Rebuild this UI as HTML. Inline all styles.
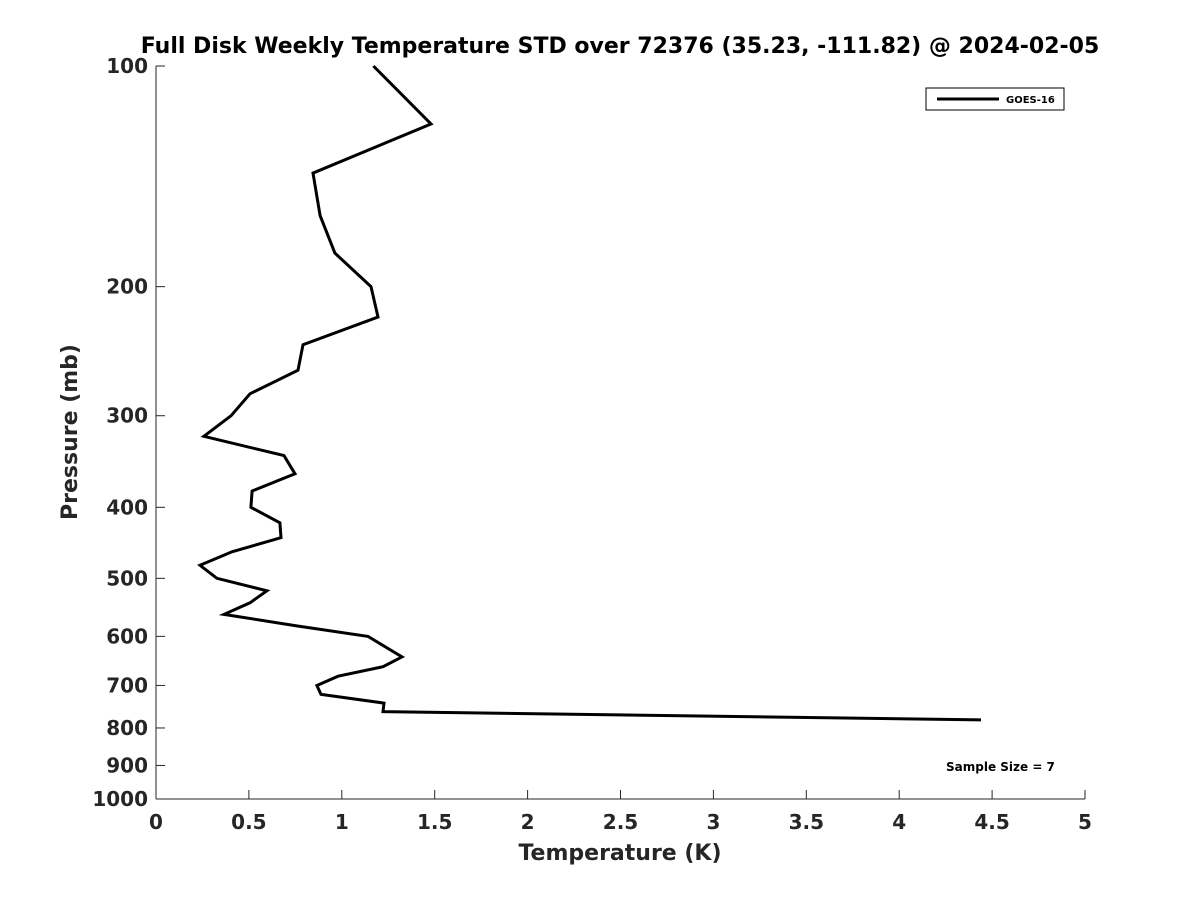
<!DOCTYPE html>
<html><head><meta charset="utf-8"><style>
body{margin:0;background:#fff;font-family:"Liberation Sans","DejaVu Sans",sans-serif}
text{font-family:"DejaVu Sans","Liberation Sans",sans-serif;font-weight:bold;fill:#262626}
</style></head><body>
<svg id="chart" width="1200" height="900" xmlns="http://www.w3.org/2000/svg">
<rect width="1200" height="900" fill="#fff"/>
<text x="620" y="53" text-anchor="middle" font-size="22" style="fill:#000">Full Disk Weekly Temperature STD over 72376 (35.23, -111.82) @ 2024-02-05</text>
<g id="axes"></g>
<path id="series" fill="none" stroke="#000" stroke-width="3" stroke-linejoin="miter"/>
<g>
<rect x="926" y="88" width="138" height="22" fill="#fff" stroke="#000" stroke-width="1"/>
<line x1="937" y1="99" x2="999" y2="99" stroke="#000" stroke-width="3"/>
<text x="1006" y="103" font-size="10" style="fill:#000">GOES-16</text>
</g>
<text x="946" y="771" font-size="12" style="fill:#000">Sample Size = 7</text>
<text x="620" y="860" text-anchor="middle" font-size="22">Temperature (K)</text>
<text transform="translate(77,432) rotate(-90)" text-anchor="middle" font-size="22">Pressure (mb)</text>
</svg>
<script>
const temps=[1.17,1.48,0.845,0.883,0.963,1.157,1.195,0.791,0.764,0.506,0.404,0.258,0.689,0.748,0.517,0.511,0.667,0.673,0.409,0.237,0.328,0.597,0.506,0.366,0.748,1.141,1.324,1.222,0.98,0.866,0.888,1.227,1.222,4.44];
const pressures=[100,120,140,160,180,200,220,240,260,280,300,320,340,360,380,400,420,440,460,480,500,520,540,560,580,600,640,660,680,700,720,740,760,780];
const xTicks=[0,0.5,1,1.5,2,2.5,3,3.5,4,4.5,5];
const xTickLabels=["0","0.5","1","1.5","2","2.5","3","3.5","4","4.5","5"];
const yTicks=[100,200,300,400,500,600,700,800,900,1000];
const X0=156,X1=1085,Y0=66,Y1=799;
const xs=t=>X0+(t-0)/(5-0)*(X1-X0);
const ys=p=>Y0+(Math.log10(p)-2)/(3-2)*(Y1-Y0);
const NS="http://www.w3.org/2000/svg";
const ax=document.getElementById('axes');
function mk(tag,attrs){const e=document.createElementNS(NS,tag);for(const k in attrs)e.setAttribute(k,attrs[k]);ax.appendChild(e);return e;}
let l=mk('line',{x1:X0,y1:Y1,x2:X1,y2:Y1,stroke:'#262626','stroke-width':1});


l=mk('line',{x1:X0,y1:Y0,x2:X0,y2:Y1,stroke:'#262626','stroke-width':1});


xTicks.forEach((t,i)=>{
  const x=xs(t);
  mk('line',{x1:x,y1:Y1,x2:x,y2:Y1-9,stroke:'#262626'});
  const tx=mk('text',{x:x,y:Y1+30,'text-anchor':'middle','font-size':20});
  tx.textContent=xTickLabels[i];
  
  
});
yTicks.forEach(p=>{
  const y=ys(p);
  mk('line',{x1:X0,y1:y,x2:X0+9,y2:y,stroke:'#262626'});
  const tx=mk('text',{x:X0-8,y:y+7,'text-anchor':'end','font-size':20});
  tx.textContent=String(p);
  
  
});
document.getElementById('series').setAttribute('d',temps.map((t,i)=>(i?'L':'M')+xs(t).toFixed(1)+','+ys(pressures[i]).toFixed(1)).join(' '));
</script>
</body></html>
